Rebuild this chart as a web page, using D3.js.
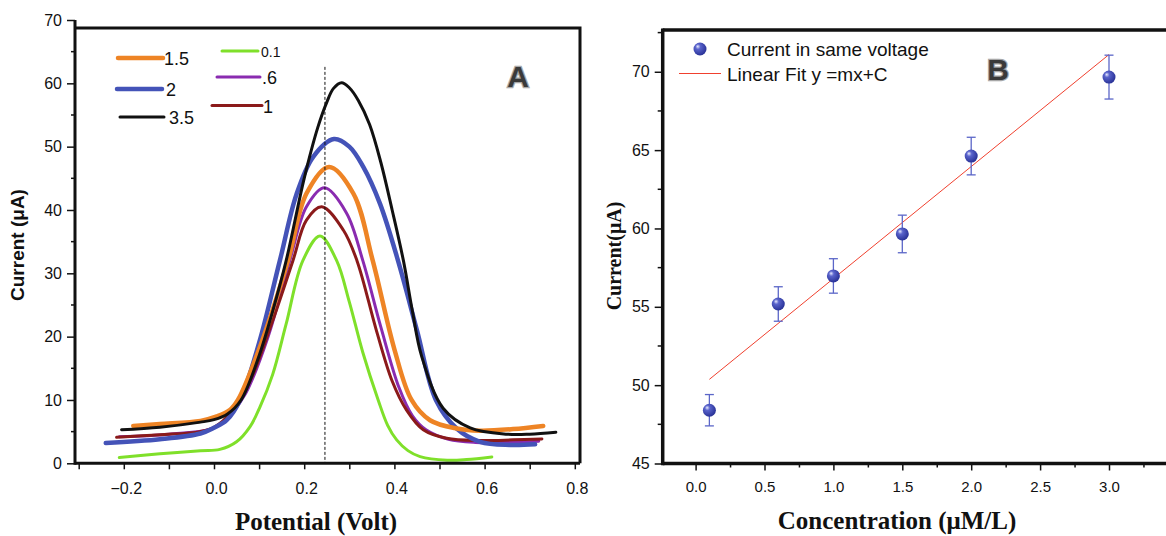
<!DOCTYPE html>
<html>
<head>
<meta charset="utf-8">
<style>
  body { margin: 0; background: #fff; }
  svg { display: block; }
  text { font-family: "Liberation Sans", Arial, sans-serif; fill: #111; }
  .serif { font-family: "Liberation Serif", "Times New Roman", serif; font-weight: bold; }
  .tag { font-weight: bold; font-size: 30px; fill: #3a3a3a; stroke: #a8a8a8; stroke-width: 2.5px; paint-order: stroke; }
</style>
</head>
<body>
<svg id="chart" width="1166" height="536"></svg>
<script src="https://cdnjs.cloudflare.com/ajax/libs/d3/7.8.5/d3.min.js"></script>
<script>
// ---- panel A : DPV curves, potential (V) vs current (uA) ----
const v01 = [-0.21, -0.12, -0.03, 0.013, 0.05, 0.08, 0.102, 0.13, 0.16, 0.197, 0.235, 0.272, 0.30, 0.33, 0.364, 0.385, 0.405, 0.43, 0.457, 0.517, 0.56, 0.616];
const i01 = [0.9, 1.5, 2.0, 2.2, 3.4, 5.8, 8.9, 14, 22, 32, 35.9, 32, 25.5, 17.5, 10, 6, 3.7, 2, 1.05, 0.5, 0.6, 1.0];

const v06 = [-0.21, -0.1, 0.0, 0.04, 0.07, 0.12, 0.168, 0.205, 0.245, 0.294, 0.33, 0.37, 0.41, 0.44, 0.47, 0.52, 0.58, 0.65, 0.72];
const i06 = [4.2, 4.6, 5.6, 8, 11, 20, 32, 40.5, 43.5, 39.5, 32, 21.5, 12, 7.5, 5.3, 3.8, 3.3, 3.3, 3.5];

const v1 = [-0.216, -0.12, -0.031, 0.0, 0.04, 0.08, 0.13, 0.175, 0.205, 0.239, 0.287, 0.317, 0.36, 0.395, 0.427, 0.464, 0.516, 0.59, 0.663, 0.727];
const i1 = [4.1, 4.5, 5.0, 5.7, 8.2, 13, 22.5, 32, 38.4, 40.5, 36.8, 32, 21, 13, 8.4, 5.3, 3.95, 3.6, 3.7, 3.85];

const v15 = [-0.179, -0.12, -0.03, 0.006, 0.035, 0.053, 0.1, 0.164, 0.205, 0.255, 0.309, 0.352, 0.4, 0.438, 0.479, 0.538, 0.59, 0.663, 0.73];
const i15 = [5.9, 6.2, 6.7, 7.4, 8.4, 10, 18, 32, 42.6, 46.8, 42.6, 32, 18, 10, 6.8, 5.5, 5.15, 5.4, 5.9];

const v2 = [-0.24, -0.12, -0.03, 0.0, 0.028, 0.058, 0.1, 0.146, 0.183, 0.22, 0.266, 0.3, 0.331, 0.368, 0.408, 0.45, 0.492, 0.538, 0.59, 0.656, 0.712];
const i2 = [3.2, 3.8, 4.7, 5.6, 6.8, 10, 19, 32, 42.5, 48.4, 51.2, 50, 46.8, 41, 32, 21, 10, 5.5, 3.4, 2.9, 3.0];

const v35 = [-0.205, -0.12, -0.03, 0.0, 0.03, 0.06, 0.1, 0.13, 0.16, 0.2, 0.23, 0.25, 0.265, 0.283, 0.3, 0.32, 0.345, 0.37, 0.395, 0.42, 0.44, 0.46, 0.508, 0.568, 0.65, 0.7, 0.758];
const i35 = [5.3, 5.7, 6.5, 6.9, 7.8, 10, 17, 24, 32, 45, 53, 57, 59.2, 60.1, 59.3, 57.3, 53.5, 47.5, 40, 32, 24, 17, 8.7, 5.6, 4.6, 4.6, 4.9];

const seriesNames = ['.6', '1', '0.1', '2', '1.5', '3.5'];
const seriesColors = ['#8a2bb0', '#8b1a1a', '#7fe02a', '#4453b8', '#ee8425', '#111111'];
const seriesWidths = [3, 3, 3, 4.5, 4.5, 3];
const seriesV = [v06, v1, v01, v2, v15, v35];
const seriesI = [i06, i1, i01, i2, i15, i35];

const peakMarkV = 0.246;
const peakMarkTop = 62.6;

const aTicksX = [-0.2, 0.0, 0.2, 0.4, 0.6, 0.8];
const aTicksY = [0, 10, 20, 30, 40, 50, 60, 70];

// ---- panel B : current vs concentration ----
const conc = [0.1, 0.6, 1.0, 1.5, 2.0, 3.0];
const current = [48.4, 55.18, 56.97, 59.65, 64.62, 69.66];
const currentErr = [1.0, 1.1, 1.1, 1.2, 1.2, 1.4];
const fitX = [0.1, 3.0];
const fitY = [50.37, 71.1];
const bTicksX = [0.0, 0.5, 1.0, 1.5, 2.0, 2.5, 3.0];
const bTicksY = [45, 50, 55, 60, 65, 70];

const svg = d3.select('#chart');

// ================= panel A =================
const ax = d3.scaleLinear().domain([0, 0.8]).range([214, 574.8]);
const ay = d3.scaleLinear().domain([0, 70]).range([463.3, 20]);
const aLeft = 75, aRight = 580, aTop = 28, aBottom = 463.3;

const gA = svg.append('g');

// curves
const line = d3.line().curve(d3.curveCatmullRom.alpha(0.5));
seriesV.forEach((vs, k) => {
	const pts = vs.map((v, j) => [ax(v), ay(seriesI[k][j])]);
	gA.append('path')
		.attr('d', line(pts))
		.attr('fill', 'none')
		.attr('stroke', seriesColors[k])
		.attr('stroke-width', seriesWidths[k])
		.attr('stroke-linecap', 'round');
});

gA.append('line')
	.attr('x1', ax(peakMarkV)).attr('x2', ax(peakMarkV))
	.attr('y1', ay(peakMarkTop)).attr('y2', aBottom)
	.attr('stroke', '#111').attr('stroke-width', 1)
	.attr('stroke-dasharray', '3,2');

// frame
gA.append('path')
	.attr('d', `M${aLeft},${aTop}H${aRight}V${aBottom}`)
	.attr('fill', 'none').attr('stroke', '#111').attr('stroke-width', 3);

// x axis
const axisXA = gA.append('g').attr('transform', `translate(0,${aBottom})`)
	.call(d3.axisBottom(ax).tickValues(d3.range(-3, 9).map(d => d / 10))
		.tickSize(6).tickFormat(d => aTicksX.some(t => Math.abs(t - d) < 1e-6) ? d3.format('.1f')(d) : ''));
axisXA.select('.domain').remove();
axisXA.append('line').attr('x1', aLeft).attr('x2', aRight).attr('stroke', '#111').attr('stroke-width', 3);
axisXA.selectAll('.tick line').attr('stroke', '#111').attr('stroke-width', 1.5);
axisXA.selectAll('.tick text').attr('font-size', 16).attr('dy', '1.35em').attr('dx', 2)
	.attr('font-family', '"Liberation Sans", Arial, sans-serif').attr('fill', '#111');

// y axis
const axisYA = gA.append('g').attr('transform', `translate(${aLeft},0)`)
	.call(d3.axisLeft(ay).tickValues(aTicksY).tickSize(8).tickPadding(5));
axisYA.select('.domain').remove();
axisYA.append('line').attr('y1', ay(70)).attr('y2', aBottom + 1.5).attr('stroke', '#111').attr('stroke-width', 3);
axisYA.selectAll('.tick line').attr('stroke', '#111').attr('stroke-width', 1.5);
axisYA.selectAll('.tick text').attr('font-size', 16)
	.attr('font-family', '"Liberation Sans", Arial, sans-serif').attr('fill', '#111');
axisYA.selectAll('.minor').data(d3.range(5, 70, 10)).enter().append('line')
	.attr('x1', -4).attr('x2', 0).attr('y1', d => ay(d)).attr('y2', d => ay(d))
	.attr('stroke', '#111').attr('stroke-width', 1.5);

gA.append('text')
	.attr('transform', 'translate(24,245) rotate(-90)')
	.attr('text-anchor', 'middle').attr('font-weight', 'bold').attr('font-size', 19)
	.text('Current (μA)');
gA.append('text').attr('class', 'serif')
	.attr('x', 316).attr('y', 530).attr('text-anchor', 'middle').attr('font-size', 25)
	.text('Potential (Volt)');
gA.append('text').attr('class', 'tag').attr('x', 518).attr('y', 87).attr('text-anchor', 'middle').text('A');

// legend A
const legA = [
	{ k: 4, x1: 118, x2: 163, y: 58, tx: 164, size: 18 },
	{ k: 3, x1: 117, x2: 162, y: 89, tx: 166, size: 18 },
	{ k: 5, x1: 120, x2: 164, y: 117, tx: 169, size: 18 },
	{ k: 2, x1: 222, x2: 258, y: 51, tx: 261, size: 14 },
	{ k: 0, x1: 217, x2: 260, y: 77, tx: 262, size: 18 },
	{ k: 1, x1: 212, x2: 262, y: 105.5, tx: 263, size: 18 }
];
legA.forEach(l => {
	gA.append('line').attr('x1', l.x1).attr('x2', l.x2).attr('y1', l.y).attr('y2', l.y)
		.attr('stroke', seriesColors[l.k]).attr('stroke-width', seriesWidths[l.k]).attr('stroke-linecap', 'round');
	gA.append('text').attr('x', l.tx).attr('y', l.y + l.size * 0.36 + 1).attr('font-size', l.size)
		.text(seriesNames[l.k]);
});

// ================= panel B =================
const bx = d3.scaleLinear().domain([0, 3]).range([695.6, 1109]);
const by = d3.scaleLinear().domain([45, 72.5]).range([463.5, 32.6]);
const bLeft = 662.7, bTop = 30, bBottom = 463.5;

const gB = svg.append('g');

const defs = svg.append('defs');
const grad = defs.append('radialGradient').attr('id', 'ball')
	.attr('cx', '40%').attr('cy', '38%').attr('r', '65%').attr('fx', '32%').attr('fy', '30%');
grad.append('stop').attr('offset', '0%').attr('stop-color', '#e8eaff');
grad.append('stop').attr('offset', '30%').attr('stop-color', '#5a64cc');
grad.append('stop').attr('offset', '100%').attr('stop-color', '#262f94');

// fit line
gB.append('line')
	.attr('x1', bx(fitX[0])).attr('y1', by(fitY[0]))
	.attr('x2', bx(fitX[1])).attr('y2', by(fitY[1]))
	.attr('stroke', '#f0402e').attr('stroke-width', 1);

// error bars
const errColor = '#5b66c8';
conc.forEach((c, j) => {
	const x = bx(c), y1 = by(current[j] + currentErr[j]), y2 = by(current[j] - currentErr[j]);
	gB.append('line').attr('x1', x).attr('x2', x).attr('y1', y1).attr('y2', y2).attr('stroke', errColor).attr('stroke-width', 1.3);
	[y1, y2].forEach(y => gB.append('line').attr('x1', x - 4.5).attr('x2', x + 4.5).attr('y1', y).attr('y2', y)
		.attr('stroke', errColor).attr('stroke-width', 1.3));
});
gB.selectAll('circle.pt').data(conc).enter().append('circle').attr('class', 'pt')
	.attr('cx', d => bx(d)).attr('cy', (d, j) => by(current[j])).attr('r', 6.5)
	.attr('fill', 'url(#ball)');

// frame
gB.append('path').attr('d', `M${bLeft},${bTop}H1166`)
	.attr('fill', 'none').attr('stroke', '#111').attr('stroke-width', 3.5);

// x axis
const axisXB = gB.append('g').attr('transform', `translate(0,${bBottom})`)
	.call(d3.axisBottom(bx).tickValues(d3.range(0, 14).map(d => d / 4))
		.tickSize(6).tickFormat(d => bTicksX.some(t => Math.abs(t - d) < 1e-6) ? d3.format('.1f')(d) : ''));
axisXB.select('.domain').remove();
axisXB.append('line').attr('x1', bLeft).attr('x2', 1166).attr('stroke', '#111').attr('stroke-width', 3.5);
axisXB.selectAll('.tick line').attr('stroke', '#111').attr('stroke-width', 1.5)
	.attr('y2', d => bTicksX.some(t => Math.abs(t - d) < 1e-6) ? 7 : 4);
axisXB.selectAll('.tick text').attr('font-size', 15).attr('dy', '1.2em').attr('y', 10)
	.attr('font-family', '"Liberation Sans", Arial, sans-serif').attr('fill', '#111');

// y axis
const axisYB = gB.append('g').attr('transform', `translate(${bLeft},0)`)
	.call(d3.axisLeft(by).tickValues(bTicksY).tickSize(8).tickPadding(5));
axisYB.select('.domain').remove();
axisYB.append('line').attr('y1', bTop - 1.5).attr('y2', bBottom + 1.7).attr('stroke', '#111').attr('stroke-width', 3.5);
axisYB.selectAll('.tick line').attr('stroke', '#111').attr('stroke-width', 1.5);
axisYB.selectAll('.tick text').attr('font-size', 16)
	.attr('font-family', '"Liberation Sans", Arial, sans-serif').attr('fill', '#111');
axisYB.selectAll('.minor').data(d3.range(47.5, 73, 5)).enter().append('line')
	.attr('x1', -5).attr('x2', 0).attr('y1', d => by(d)).attr('y2', d => by(d))
	.attr('stroke', '#111').attr('stroke-width', 1.5);

gB.append('text').attr('class', 'serif')
	.attr('transform', 'translate(621,256) rotate(-90)')
	.attr('text-anchor', 'middle').attr('font-size', 20)
	.text('Current(μA)');
gB.append('text').attr('class', 'serif')
	.attr('x', 897).attr('y', 529).attr('text-anchor', 'middle').attr('font-size', 25)
	.text('Concentration (μM/L)');
gB.append('text').attr('class', 'tag').attr('x', 998).attr('y', 80).attr('text-anchor', 'middle').text('B');

// legend B
gB.append('circle').attr('cx', 700).attr('cy', 49).attr('r', 6.5).attr('fill', 'url(#ball)');
gB.append('text').attr('x', 727).attr('y', 56).attr('font-size', 19).text('Current in same voltage');
gB.append('line').attr('x1', 679).attr('x2', 721).attr('y1', 73.5).attr('y2', 73.5)
	.attr('stroke', '#f0402e').attr('stroke-width', 1);
gB.append('text').attr('x', 727).attr('y', 80.5).attr('font-size', 19).text('Linear Fit y =mx+C');
</script>
</body>
</html>
